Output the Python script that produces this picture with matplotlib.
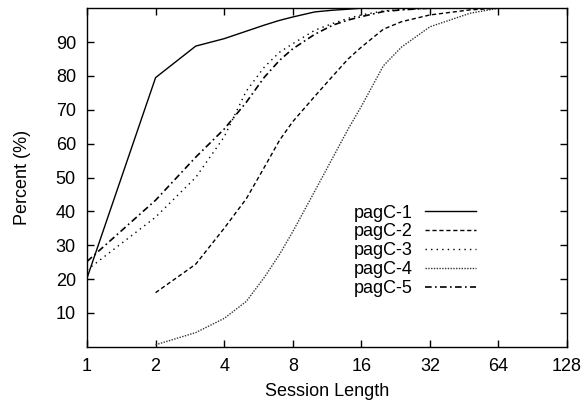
import numpy as np
import matplotlib
matplotlib.use("Agg")
import matplotlib.pyplot as plt

plt.rcParams['font.family'] = ['Liberation Sans', 'DejaVu Sans']

# session lengths where the curves were read
sess = [1, 2, 3, 4, 5, 6, 7, 8, 10, 12, 14, 16, 20, 24, 32, 48, 64, 128]
nan = np.nan

pagc1 = [20.3, 79.5, 88.8, 91.0, 93.2, 95.0, 96.4, 97.4, 98.9, 99.4, 99.7, 100, 100, 100, 100, 100, 100, 100]
pagc2 = [nan, 16.0, 24.4, 35.0, 43.7, 53.0, 61.0, 66.5, 74.0, 80.0, 85.0, 88.5, 93.8, 96.0, 98.0, 99.5, 100, 100]
pagc3 = [22.7, 38.3, 50.0, 62.0, 75.5, 82.6, 87.0, 89.5, 93.5, 95.5, 97.0, 98.0, 99.2, 99.6, 100, 100, 100, 100]
pagc4 = [nan, 0.6, 4.2, 8.4, 13.4, 20.5, 27.3, 34.0, 46.0, 55.9, 64.3, 71.0, 83.0, 88.5, 94.5, 98.5, 100, 100]
pagc5 = [25.2, 43.3, 56.0, 64.3, 72.2, 79.6, 84.6, 88.0, 92.3, 95.0, 96.5, 97.5, 99.0, 99.5, 100, 100, 100, 100]

names = ["pagC-1", "pagC-2", "pagC-3", "pagC-4", "pagC-5"]
xticks = [1, 2, 4, 8, 16, 32, 64, 128]
yticks = [10, 20, 30, 40, 50, 60, 70, 80, 90]

fig = plt.figure(figsize=(5.84, 4.09), dpi=100)
ax = fig.add_axes([0.149, 0.152, 0.822, 0.828])

ax.plot(sess, pagc1, color='black', lw=1.0, ls='-', label=names[0])
ax.plot(sess, pagc2, color='black', lw=1.0, dashes=(3, 2), label=names[1])
ax.plot(sess, pagc3, color='black', lw=1.0, dashes=(1, 3), label=names[2])
ax.plot(sess, pagc4, color='#333333', lw=1.0, dashes=(1, 1), label=names[3])
ax.plot(sess, pagc5, color='black', lw=1.2, dashes=(4, 2, 1, 2), label=names[4])

ax.set_xscale('log', base=2)
ax.set_xlim(1, 128)
ax.set_ylim(0, 100)
ax.set_xticks(xticks)
ax.set_xticklabels([str(t) for t in xticks])
ax.minorticks_off()
ax.set_yticks(yticks)
ax.tick_params(direction='in', length=5, width=1, top=True, right=True, labelsize=13, pad=8)

for s in ax.spines.values():
    s.set_linewidth(1.0)

ax.set_xlabel("Session Length", fontsize=13, labelpad=6)
ax.set_ylabel("Percent (%)", fontsize=13, labelpad=18)

ax.legend(loc='upper left', bbox_to_anchor=(0.555, 0.42), frameon=False, markerfirst=False,
          fontsize=13, handlelength=2.8, labelspacing=0.1, handletextpad=0.7,
          borderpad=0, borderaxespad=0)

fig.savefig("out.png", dpi=100)
